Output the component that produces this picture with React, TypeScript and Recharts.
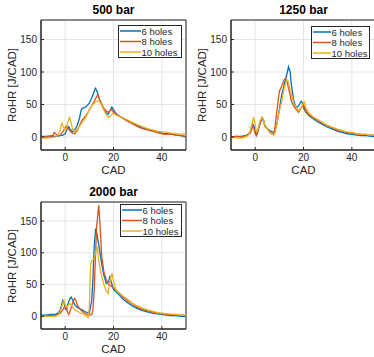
import React from 'react'
import { LineChart, Line, XAxis, YAxis, CartesianGrid, ReferenceArea } from 'recharts'

type Pt = [number, number]

const cadTicks = [0, 20, 40]
const rohrTicks = [0, 50, 100, 150]
const holeLabels = ['6 holes', '8 holes', '10 holes']
const lineColors = ['#0072BD', '#D95319', '#EDB120']

// 500 bar — [CAD, RoHR]
const bar500_6: Pt[] = [
  [-10, 1], [-8, 1], [-6, 1.5], [-4, 1], [-2, 2], [-1, 3], [0, 5], [1, 14], [1.5, 16], [2, 12],
  [3, 8], [4, 11], [5, 18], [6, 30], [6.5, 40], [7, 44], [8, 45], [9, 48], [10, 52], [11, 60],
  [12, 70], [12.5, 75], [13, 72], [14, 60], [15, 50], [16, 42], [17, 37], [17.8, 35], [18.5, 40],
  [19.3, 46], [20, 42], [21, 36], [22, 33], [24, 29], [26, 25], [28, 21], [30, 17], [32, 14],
  [34, 12], [36, 10], [38, 8], [40, 6], [42, 5], [44, 4], [46, 3], [48, 2], [50, 0],
]
const bar500_8: Pt[] = [
  [-10, 0], [-8, 0], [-6, 1], [-5, 3], [-4.5, 7], [-4, 5], [-3, 2], [-2, 3], [-1, 8], [0, 14],
  [0.5, 17], [1, 14], [2, 9], [3, 6], [4, 5], [5, 10], [6, 18], [7, 26], [8, 30], [9, 35],
  [10, 42], [11, 48], [12, 55], [13, 62], [13.6, 65], [14, 60], [15, 52], [16, 44], [17, 40],
  [18, 38], [19, 43], [19.5, 41], [20, 38], [22, 33], [24, 28], [26, 24], [28, 20], [30, 16],
  [32, 13], [34, 11], [36, 9], [38, 7], [40, 5], [42, 4], [44, 5], [46, 3], [48, 2], [50, 1],
]
const bar500_10: Pt[] = [
  [-10, -1], [-8, -2], [-6, -1], [-4, 0], [-3, 3], [-2, 12], [-1.4, 21], [-1, 18], [0, 10],
  [0.5, 12], [1, 22], [1.8, 30], [2.5, 22], [3, 12], [4, 8], [5, 12], [6, 17], [7, 22], [8, 27],
  [9, 34], [10, 42], [11, 48], [12, 52], [13, 55], [14, 56], [15, 50], [16, 42], [17, 34],
  [18, 30], [19, 33], [19.8, 36], [20.5, 35], [22, 32], [24, 29], [26, 26], [28, 22], [30, 19],
  [32, 16], [34, 13], [36, 11], [38, 9], [40, 8], [42, 7], [44, 6], [46, 5], [48, 4], [49, 5], [50, 3],
]

// 1250 bar
const bar1250_6: Pt[] = [
  [-10, 0], [-8, 1], [-6, 1], [-4, 2], [-3, 4], [-2, 8], [-1, 20], [-0.5, 17], [0, 8], [0.5, 3],
  [1, 8], [2, 20], [2.8, 28], [3.5, 25], [4, 16], [5, 13], [6, 10], [7, 8], [8, 8], [9, 20],
  [10, 42], [11, 65], [12, 80], [13, 95], [13.8, 108], [14.5, 100], [15, 80], [16, 55], [17, 45],
  [18, 48], [19, 55], [19.5, 53], [20, 45], [21, 38], [22, 34], [24, 28], [26, 23], [28, 19],
  [30, 15], [32, 12], [34, 9], [36, 7], [38, 5], [40, 4], [42, 3], [44, 2], [46, 2], [48, 1], [50, 1],
]
const bar1250_8: Pt[] = [
  [-10, 0], [-8, 1], [-6, 0], [-4, 1], [-3, 3], [-2, 6], [-1, 17], [-0.5, 13], [0, 5], [0.5, 2],
  [1, 6], [2, 22], [2.8, 30], [3.5, 26], [4, 18], [5, 13], [6, 8], [7, 5], [7.5, 4], [8, 10],
  [9, 40], [10, 70], [10.6, 75], [11, 78], [12, 88], [12.5, 90], [13, 88], [14, 72], [15, 55],
  [16, 47], [17, 42], [18, 38], [19, 45], [20, 50], [21, 40], [22, 35], [24, 30], [26, 25],
  [28, 21], [30, 17], [32, 14], [34, 11], [36, 9], [38, 7], [40, 6], [42, 5], [44, 4], [46, 4], [48, 3], [50, 3],
]
const bar1250_10: Pt[] = [
  [-10, -1], [-8, -1], [-6, -2], [-4, 0], [-3, 2], [-2, 10], [-1, 25], [-0.7, 31], [0, 20],
  [0.5, 8], [1, 10], [2, 25], [3, 30], [3.5, 26], [4, 17], [5, 12], [6, 7], [7, 4], [8, 3],
  [9, 20], [10, 40], [11, 55], [12, 75], [13, 88], [13.5, 87], [14, 80], [15, 65], [16, 52],
  [17, 45], [18, 40], [19, 45], [20.3, 54], [21, 45], [22, 38], [24, 31], [26, 27], [28, 22],
  [30, 18], [32, 15], [34, 12], [36, 10], [38, 8], [40, 7], [42, 5], [44, 4], [46, 4], [48, 3], [50, 3],
]

// 2000 bar
const bar2000_6: Pt[] = [
  [-10, 2], [-8, 2], [-6, 3], [-4, 3], [-3, 5], [-2, 10], [-1, 25], [-0.5, 22], [0, 12], [0.5, 10],
  [1, 18], [2, 28], [2.5, 30], [3, 26], [4, 18], [5, 14], [6, 12], [7, 10], [8, 8], [9, 6],
  [10, 5], [11, 25], [11.5, 60], [12, 110], [12.6, 138], [13, 132], [14, 110], [15, 85], [16, 65],
  [17, 52], [18, 55], [18.5, 62], [19, 55], [20, 42], [22, 35], [24, 27], [26, 21], [28, 16],
  [30, 12], [32, 9], [34, 7], [36, 5], [38, 4], [40, 3], [42, 2], [44, 1], [46, 1], [48, 0], [50, 0],
]
const bar2000_8: Pt[] = [
  [-10, 1], [-8, 1], [-6, 1], [-4, 2], [-3, 3], [-2, 5], [-1, 10], [0, 17], [0.5, 14], [1, 6],
  [1.5, 3], [2, 8], [3, 20], [3.9, 28], [4.5, 25], [5, 18], [6, 12], [7, 8], [8, 5], [9, 3],
  [10, 2], [11, 3], [11.5, 10], [12, 40], [12.5, 90], [13, 140], [13.9, 175], [14.5, 140],
  [15, 100], [16, 70], [17, 58], [18, 50], [19, 48], [20, 44], [22, 38], [24, 30], [26, 24],
  [28, 19], [30, 14], [32, 11], [34, 9], [36, 7], [38, 5], [40, 4], [42, 3], [44, 3], [46, 2], [48, 2], [50, 1],
]
const bar2000_10: Pt[] = [
  [-10, 0], [-8, 0], [-6, 0], [-4, 0], [-3, 2], [-2, 8], [-1, 20], [-0.5, 25], [0, 18], [0.5, 14],
  [1, 16], [2, 20], [3, 15], [4, 10], [5, 8], [6, 6], [7, 4], [8, 2], [9, 0], [9.5, -2], [10, 15],
  [10.5, 80], [11, 88], [12, 90], [12.5, 100], [13.2, 110], [14, 85], [15, 65], [16, 50], [17, 40],
  [17.8, 36], [18.5, 55], [19.4, 68], [20, 55], [21, 42], [22, 38], [24, 32], [26, 26], [28, 20],
  [30, 16], [32, 13], [34, 10], [36, 8], [38, 6], [40, 5], [42, 4], [44, 3], [46, 3], [48, 2], [50, 2],
]

const font = '"Liberation Sans", Arial, Helvetica, sans-serif'
const ink = '#262626'

interface LegendBoxProps {
  left: number
  top: number
  width: number
  lineW: number
}

// legend drawn as a small svg so the sample lines land on whole pixels
function LegendBox({ left, top, width, lineW }: LegendBoxProps) {
  const h = 33
  return (
    <svg width={width} height={h} style={{ position: 'absolute', left, top }}>
      <rect x={0.5} y={0.5} width={width - 1} height={h - 1} fill="#fff" stroke={ink} strokeWidth={1} />
      {holeLabels.map((label, i) => {
        const cy = 6 + i * 10.5
        return (
          <g key={label}>
            <line x1={2} x2={2 + lineW} y1={cy} y2={cy} stroke={lineColors[i]} strokeWidth={1.5} />
            <text
              x={2.5 + lineW} y={cy} dominantBaseline="central" fontSize={9.5}
              fontFamily={font} fill={ink}
            >
              {label}
            </text>
          </g>
        )
      })}
    </svg>
  )
}

interface PanelProps {
  left: number
  top: number
  title: string
  plotTop: number
  plotH: number
  series: Pt[][]
  legend: LegendBoxProps
}

function Panel({ left, top, title, plotTop, plotH, series, legend }: PanelProps) {
  const W = 190
  const H = plotTop + plotH + 30
  return (
    <div style={{ position: 'absolute', left, top, width: W, height: H }}>
      <div
        style={{
          position: 'absolute', left: 41, width: 145, top: plotTop - 17, height: 14,
          lineHeight: '14px', textAlign: 'center', fontFamily: font, fontWeight: 'bold',
          fontSize: 12, color: '#000',
        }}
      >
        {title}
      </div>
      <LineChart width={W} height={H} margin={{ top: plotTop, right: 4, bottom: 0, left: 0 }}>
        <CartesianGrid stroke="#e4e4e4" strokeWidth={1} />
        <XAxis
          dataKey="x" type="number" domain={[-10, 50]} ticks={cadTicks} allowDataOverflow height={30}
          tickSize={-3} tickMargin={7} axisLine={{ stroke: ink }} tickLine={{ stroke: ink }}
          tick={{ fontSize: 10, fill: ink, fontFamily: font }}
        />
        <YAxis
          type="number" domain={[-20, 180]} ticks={rohrTicks} allowDataOverflow width={41}
          tickSize={-3} tickMargin={7} axisLine={{ stroke: ink }} tickLine={{ stroke: ink }}
          tick={{ fontSize: 10, fill: ink, fontFamily: font }}
        />
        {series.map((pts, i) => (
          <Line
            key={holeLabels[i]}
            data={pts.map(([x, y]) => ({ x, y }))}
            dataKey="y"
            type="linear"
            stroke={lineColors[i]}
            strokeWidth={1.3}
            dot={false}
            activeDot={false}
            isAnimationActive={false}
          />
        ))}
        <ReferenceArea x1={-10} x2={50} y1={-20} y2={180} fill="none" fillOpacity={0} stroke={ink} strokeWidth={1} />
      </LineChart>
      <div
        style={{
          position: 'absolute', left: 41, width: 145, top: plotTop + plotH + 13, height: 14,
          lineHeight: '14px', textAlign: 'center', fontFamily: font, fontSize: 11.5, color: ink,
        }}
      >
        CAD
      </div>
      <div
        style={{
          position: 'absolute', left: 11.7 - 50, width: 100, top: plotTop + plotH / 2 - 7, height: 14,
          lineHeight: '14px', textAlign: 'center', fontFamily: font, fontSize: 11.5, color: ink,
          transform: 'rotate(-90deg)', whiteSpace: 'nowrap',
        }}
      >
        RoHR [J/CAD]
      </div>
      <LegendBox {...legend} />
    </div>
  )
}

export default function App() {
  return (
    <div style={{ position: 'absolute', left: 0, top: 0, width: 374, height: 357, overflow: 'hidden', background: '#fff' }}>
      <Panel
        left={0} top={0} title="500 bar" plotTop={20} plotH={130}
        series={[bar500_6, bar500_8, bar500_10]}
        legend={{ left: 118, top: 25, width: 64, lineW: 21 }}
      />
      <Panel
        left={190} top={0} title="1250 bar" plotTop={20} plotH={130}
        series={[bar1250_6, bar1250_8, bar1250_10]}
        legend={{ left: 121, top: 26, width: 59, lineW: 18 }}
      />
      <Panel
        left={0} top={180} title="2000 bar" plotTop={22} plotH={127}
        series={[bar2000_6, bar2000_8, bar2000_10]}
        legend={{ left: 120, top: 24, width: 62, lineW: 20 }}
      />
    </div>
  )
}
